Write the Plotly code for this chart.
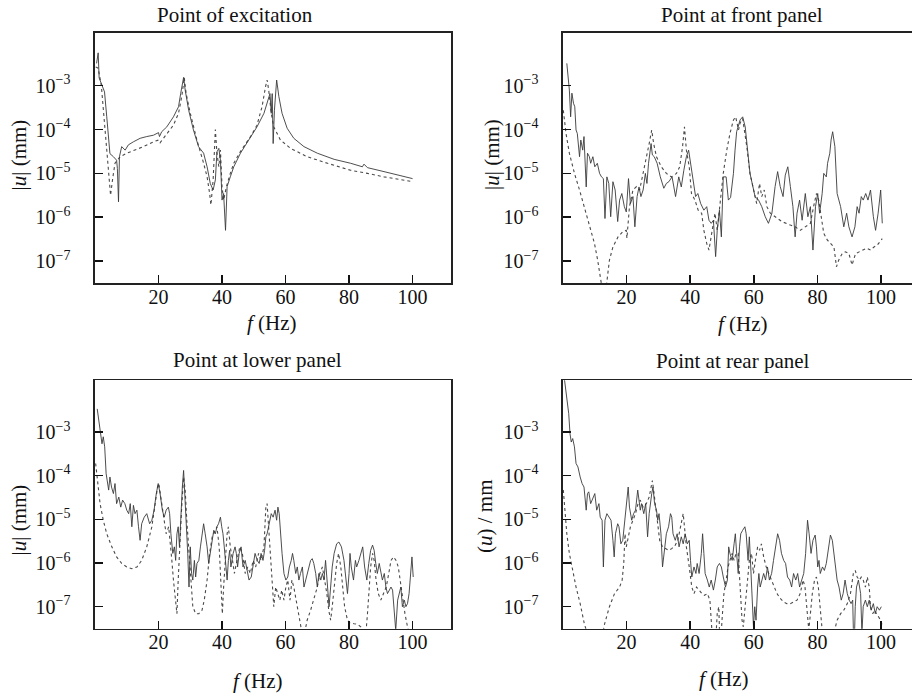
import plotly.graph_objects as go

# ---------------- data (frequency in Hz, |u| given as log10 of mm) ----------------
exc_solid_f = [0.5, 1.0, 1.3, 2.0, 3.0, 3.7, 4.7, 5.8, 6.8, 7.05,
               7.4, 7.7, 8.4, 9.5, 10.5, 12.1, 14.2, 16.3, 18.4, 20.0,
               20.3, 21.0, 22.6, 24.7, 26.3, 27.0, 27.7, 27.9, 28.4, 29.5,
               31.0, 32.6, 34.2, 35.3, 36.3, 37.2, 37.9, 38.4, 39.0, 39.5,
               40.0, 40.5, 41.1, 41.6, 42.6, 43.7, 45.8, 48.4, 51.0, 53.2,
               54.2, 55.1, 55.5, 55.8, 56.1, 56.5, 57.2, 57.9, 58.9, 60.5,
               62.6, 65.8, 70.0, 75.3, 80.5, 84.2, 84.7, 85.8, 91.0, 96.3,
               100.0]
exc_solid_lg = [-2.49, -2.25, -2.82, -2.96, -3.14, -3.71, -4.55, -4.62, -4.70, -4.89,
                -5.65, -4.62, -4.39, -4.47, -4.35, -4.28, -4.20, -4.16, -4.13, -4.07,
                -4.16, -4.05, -3.94, -3.71, -3.48, -3.17, -2.83, -2.81, -3.10, -3.56,
                -4.01, -4.39, -4.54, -4.85, -5.23, -5.38, -5.15, -4.51, -4.43, -4.70,
                -5.61, -5.46, -6.30, -5.30, -5.08, -4.85, -4.54, -4.24, -3.94, -3.63,
                -3.40, -3.18, -3.63, -3.18, -4.32, -3.56, -2.87, -3.25, -3.63, -3.97,
                -4.20, -4.39, -4.54, -4.68, -4.77, -4.85, -4.79, -4.87, -4.96, -5.05,
                -5.12]
exc_dot_f = [0.2, 1.0, 2.0, 2.6, 3.7, 4.5, 4.9, 5.6, 6.3, 7.9,
             10.0, 12.1, 15.3, 18.4, 20.0, 20.5, 22.6, 24.7, 26.3, 27.4,
             28.1, 28.7, 30.0, 32.1, 34.2, 35.3, 36.1, 36.5, 37.2, 37.9,
             38.4, 39.0, 39.5, 40.0, 40.5, 41.4, 42.6, 43.7, 45.8, 49.0,
             51.0, 52.6, 53.7, 54.2, 54.7, 55.5, 56.3, 58.4, 61.6, 66.8,
             73.2, 80.5, 85.8, 91.0, 100.0]
exc_dot_lg = [-2.57, -2.60, -3.00, -3.50, -4.47, -5.08, -5.50, -5.10, -4.77, -4.62,
              -4.54, -4.48, -4.39, -4.28, -4.24, -4.30, -4.09, -3.90, -3.63, -3.21,
              -2.81, -3.18, -3.63, -4.24, -4.77, -5.08, -5.46, -5.72, -5.15, -4.00,
              -4.54, -4.85, -4.47, -5.30, -5.61, -5.30, -5.00, -4.77, -4.50, -4.16,
              -3.90, -3.48, -3.02, -2.87, -3.10, -3.63, -3.94, -4.24, -4.43, -4.62,
              -4.77, -4.93, -5.00, -5.08, -5.19]

front_solid_f = [1.2, 2.0, 2.4, 2.8, 3.3, 3.7, 4.1, 4.5, 5.2, 5.6,
                 6.2, 6.6, 7.3, 7.7, 8.3, 8.7, 9.4, 10.0, 10.8, 11.5,
                 12.1, 12.7, 13.2, 13.8, 14.4, 15.0, 15.7, 16.4, 17.2, 17.8,
                 18.5, 19.3, 19.9, 20.6, 21.2, 22.0, 22.6, 23.3, 23.9, 24.5,
                 25.2, 25.9, 26.4, 26.9, 27.7, 28.1, 28.7, 29.6, 30.6, 31.7,
                 32.5, 33.3, 34.3, 35.4, 36.4, 37.2, 38.0, 38.8, 39.5, 40.1,
                 40.9, 41.7, 42.4, 43.3, 44.3, 45.2, 45.9, 46.6, 47.3, 48.0,
                 48.5, 49.2, 49.8, 50.4, 51.3, 52.0, 52.7, 53.6, 54.1, 54.6,
                 55.7, 56.5, 57.3, 57.8, 58.8, 60.4, 61.5, 62.5, 63.6, 64.6,
                 65.7, 66.7, 67.5, 68.3, 69.2, 69.9, 70.7, 71.5, 72.3, 73.0,
                 73.6, 74.4, 75.2, 76.2, 77.0, 77.8, 78.6, 79.4, 80.1, 80.7,
                 81.5, 82.0, 82.8, 83.2, 83.9, 84.3, 84.8, 85.5, 86.2, 87.3,
                 88.3, 89.2, 89.9, 90.9, 91.8, 92.5, 93.1, 93.8, 94.4, 95.2,
                 95.9, 96.7, 97.6, 98.3, 99.1, 99.9, 100.4]
front_solid_lg = [-2.49, -3.10, -3.71, -3.17, -3.40, -3.48, -4.01, -4.09, -4.62, -4.24,
                  -4.47, -4.16, -5.31, -4.54, -4.62, -4.77, -4.62, -4.85, -4.77, -5.00,
                  -5.08, -5.12, -6.03, -5.08, -5.23, -5.99, -5.19, -5.38, -6.10, -5.61,
                  -5.46, -5.76, -5.88, -5.12, -5.69, -5.53, -6.22, -5.53, -5.31, -5.53,
                  -5.38, -5.00, -5.23, -4.77, -4.32, -4.58, -4.62, -4.77, -5.08, -5.34,
                  -5.23, -5.19, -5.08, -5.53, -5.08, -5.31, -4.93, -4.62, -4.47, -4.77,
                  -5.23, -5.53, -5.46, -5.69, -5.84, -5.76, -6.07, -6.14, -6.07, -6.90,
                  -6.30, -5.84, -6.45, -5.08, -5.08, -5.61, -5.55, -5.00, -4.47, -4.05,
                  -3.78, -3.71, -3.94, -4.32, -5.00, -5.53, -5.61, -5.76, -5.99, -6.14,
                  -5.91, -5.30, -4.96, -5.30, -5.53, -5.04, -4.85, -5.30, -5.76, -6.45,
                  -5.91, -5.61, -6.07, -5.46, -5.99, -5.76, -6.75, -5.76, -5.46, -5.91,
                  -5.46, -5.00, -5.08, -4.77, -4.54, -4.24, -4.05, -4.39, -5.46, -5.76,
                  -6.22, -5.91, -6.22, -6.45, -6.22, -5.76, -5.91, -5.53, -5.61, -5.46,
                  -5.61, -5.38, -5.99, -6.30, -5.91, -5.38, -6.14]
front_dot_f = [0.1, 0.95, 2.0, 3.6, 5.2, 6.7, 8.3, 9.9, 10.9, 12.0,
               13.05, 13.6, 14.6, 15.7, 17.3, 18.8, 19.9, 20.1, 20.9, 22.0,
               23.1, 24.1, 25.2, 26.2, 27.1, 27.9, 28.5, 29.4, 30.9, 32.5,
               34.1, 35.7, 36.7, 37.6, 38.2, 38.8, 39.7, 40.4, 41.5, 42.5,
               43.6, 44.3, 45.2, 45.9, 46.7, 47.8, 48.5, 49.4, 50.4, 51.5,
               52.5, 53.6, 54.3, 55.2, 55.7, 56.5, 57.3, 57.8, 58.8, 60.1,
               60.9, 61.8, 62.5, 63.3, 64.1, 65.2, 66.7, 68.8, 71.5, 73.0,
               74.6, 76.2, 77.8, 78.8, 79.7, 80.4, 81.2, 82.0, 83.1, 84.1,
               85.2, 86.0, 86.7, 87.8, 88.8, 89.9, 90.9, 92.0, 93.1, 94.1,
               95.5, 96.7, 97.8, 98.8, 100.4]
front_dot_lg = [-3.56, -4.09, -4.54, -5.00, -5.38, -5.76, -6.14, -6.60, -6.98, -7.44,
                -7.97, -7.59, -6.98, -6.68, -6.45, -6.33, -6.30, -6.48, -5.76, -5.38,
                -5.30, -5.38, -5.00, -4.70, -4.32, -4.01, -4.32, -4.62, -4.85, -5.00,
                -5.08, -5.00, -4.85, -4.39, -3.94, -4.47, -4.85, -5.46, -5.61, -5.84,
                -5.91, -6.30, -6.60, -6.75, -6.37, -5.91, -6.30, -5.61, -5.00, -4.47,
                -4.09, -3.78, -3.71, -4.01, -3.85, -3.75, -4.09, -4.39, -5.00, -5.46,
                -5.69, -5.23, -5.53, -5.38, -5.76, -5.91, -5.99, -6.10, -6.18, -6.22,
                -6.30, -6.22, -6.14, -5.76, -5.46, -5.61, -5.99, -6.37, -6.52, -6.60,
                -6.68, -7.13, -6.98, -6.83, -6.79, -6.83, -7.09, -6.83, -6.79, -6.75,
                -6.71, -6.75, -6.68, -6.64, -6.49]

lower_solid_f = [0.7, 1.6, 2.2, 2.6, 3.05, 3.5, 3.9, 4.3, 4.7, 5.2,
                 5.8, 6.3, 6.8, 7.5, 8.1, 8.7, 9.4, 10.0, 10.6, 11.1,
                 11.6, 12.1, 12.6, 13.2, 13.7, 14.2, 14.7, 15.5, 16.3, 17.2,
                 17.9, 18.6, 19.3, 19.9, 20.5, 21.2, 21.8, 22.4, 23.1, 23.5,
                 23.9, 24.5, 25.0, 25.4, 25.8, 26.2, 26.6, 27.1, 27.5, 27.9,
                 28.3, 28.7, 29.2, 29.6, 30.0, 30.4, 30.8, 31.3, 31.7, 32.1,
                 32.7, 33.2, 33.8, 34.2, 34.7, 35.3, 35.8, 36.3, 36.9, 37.4,
                 37.9, 38.4, 38.9, 39.5, 39.9, 40.3, 40.7, 41.2, 41.6, 42.0,
                 42.4, 42.8, 43.5, 44.1, 44.5, 44.9, 45.4, 46.0, 46.6, 47.3,
                 47.9, 48.5, 49.2, 49.8, 50.4, 51.1, 51.7, 52.3, 52.9, 53.4,
                 53.8, 54.2, 54.8, 55.5, 56.1, 56.7, 57.2, 57.6, 58.0, 58.4,
                 58.9, 59.5, 60.1, 60.7, 61.2, 61.8, 62.2, 62.6, 63.2, 63.7,
                 64.2, 64.7, 65.3, 65.8, 66.3, 66.8, 67.4, 67.9, 68.4, 68.9,
                 69.5, 70.0, 70.5, 71.1, 71.6, 72.1, 72.6, 73.2, 73.7, 74.2,
                 74.7, 75.3, 76.1, 76.8, 77.6, 78.4, 79.1, 79.5, 80.0, 80.3,
                 80.7, 81.4, 82.0, 82.4, 83.1, 83.7, 84.3, 84.9, 85.6, 86.2,
                 86.8, 87.4, 87.9, 88.4, 88.9, 89.5, 90.0, 90.5, 91.1, 91.6,
                 92.1, 92.6, 93.2, 93.7, 94.2, 94.7, 95.3, 95.8, 96.3, 96.8,
                 97.4, 97.9, 98.4, 98.9, 99.5, 99.8, 100.2]
lower_solid_lg = [-2.47, -2.89, -3.27, -3.11, -3.34, -3.95, -4.10, -4.33, -4.03, -4.26,
                  -4.41, -4.18, -4.64, -4.49, -4.72, -4.56, -4.64, -4.79, -4.87, -4.64,
                  -5.17, -4.68, -4.87, -4.79, -5.17, -5.48, -5.10, -4.95, -4.87, -5.10,
                  -5.02, -4.79, -4.41, -4.18, -4.41, -4.79, -4.95, -4.79, -4.72, -4.87,
                  -5.33, -5.78, -5.63, -5.94, -5.33, -5.17, -5.63, -4.79, -4.26, -3.88,
                  -4.41, -5.17, -5.78, -6.55, -5.63, -6.24, -6.39, -5.94, -6.32, -6.01,
                  -5.94, -5.63, -5.33, -5.10, -5.33, -5.63, -6.01, -5.78, -5.40, -5.25,
                  -5.33, -5.17, -5.10, -4.95, -5.17, -5.33, -5.63, -6.01, -6.39, -5.94,
                  -5.71, -6.09, -5.78, -5.63, -5.78, -6.09, -5.78, -5.63, -6.09, -5.94,
                  -6.17, -6.39, -6.32, -6.09, -5.78, -5.94, -6.01, -5.78, -5.94, -5.71,
                  -5.40, -5.33, -5.10, -4.87, -4.95, -4.79, -5.02, -4.72, -4.87, -5.33,
                  -5.78, -6.24, -6.39, -6.32, -6.09, -5.94, -5.78, -5.94, -6.24, -6.09,
                  -6.39, -6.24, -6.09, -6.55, -6.39, -6.24, -6.09, -5.94, -5.90, -6.01,
                  -6.24, -6.55, -6.24, -6.39, -6.24, -6.39, -5.94, -6.55, -7.00, -6.55,
                  -6.09, -5.78, -5.56, -5.52, -5.63, -5.94, -6.39, -6.70, -6.24, -5.78,
                  -6.09, -6.39, -5.94, -6.09, -5.94, -5.78, -5.63, -6.09, -6.39, -6.01,
                  -5.71, -5.59, -5.71, -6.01, -6.24, -6.01, -6.24, -6.39, -6.24, -6.55,
                  -6.70, -6.62, -6.55, -6.62, -7.16, -7.54, -6.85, -6.70, -6.55, -7.00,
                  -6.85, -7.00, -6.93, -6.70, -6.24, -5.86, -6.32]
lower_dot_f = [0.2, 0.7, 1.6, 2.6, 3.7, 5.3, 6.8, 8.4, 10.0, 11.6,
               13.2, 14.7, 16.3, 17.9, 18.9, 19.7, 20.1, 20.7, 21.6, 22.4,
               23.2, 23.7, 24.2, 24.7, 25.4, 25.8, 26.2, 26.6, 27.3, 27.9,
               28.4, 28.9, 29.6, 30.2, 30.8, 31.7, 32.7, 33.7, 34.4, 35.3,
               36.1, 36.9, 37.8, 38.4, 39.1, 39.7, 40.1, 40.5, 41.2, 41.6,
               42.0, 42.6, 43.3, 43.9, 44.7, 45.6, 46.4, 47.3, 48.1, 48.9,
               49.8, 50.6, 51.5, 52.3, 53.2, 53.8, 54.2, 54.7, 55.3, 55.8,
               56.3, 56.9, 57.6, 58.2, 58.8, 59.5, 60.1, 60.7, 61.4, 62.0,
               62.6, 63.3, 64.1, 64.9, 65.6, 66.0, 66.8, 67.9, 68.9, 70.0,
               70.8, 71.6, 72.3, 73.0, 73.6, 74.2, 74.7, 75.5, 76.1, 76.7,
               77.4, 78.0, 78.6, 79.5, 80.3, 81.6, 82.6, 83.7, 84.5, 85.3,
               85.8, 86.3, 86.8, 87.4, 87.9, 88.5, 89.2, 90.0, 90.8, 91.7,
               92.5, 93.2, 94.0, 94.8, 95.5, 96.1, 96.7, 97.6, 98.4, 99.3,
               100.1]
lower_dot_lg = [-3.72, -4.10, -4.64, -5.02, -5.33, -5.63, -5.86, -6.01, -6.09, -6.13,
                -6.09, -5.94, -5.63, -5.17, -4.64, -4.26, -4.18, -4.49, -5.02, -5.33,
                -5.17, -5.48, -5.94, -6.39, -7.00, -7.16, -6.39, -5.63, -4.72, -4.03,
                -4.33, -5.02, -5.78, -6.55, -7.00, -7.16, -7.16, -7.08, -6.85, -6.39,
                -5.78, -5.40, -5.25, -5.17, -5.63, -6.78, -7.16, -6.55, -5.78, -5.33,
                -5.17, -5.63, -5.94, -6.24, -5.94, -5.63, -5.78, -6.24, -6.09, -6.24,
                -5.94, -6.09, -5.78, -5.94, -5.63, -4.72, -4.64, -5.17, -5.94, -6.55,
                -7.00, -6.55, -6.70, -6.85, -6.62, -6.85, -6.55, -6.39, -6.85, -6.39,
                -6.55, -6.85, -7.16, -7.46, -7.77, -7.61, -7.31, -7.08, -6.85, -6.55,
                -6.24, -6.09, -6.39, -6.70, -7.08, -7.31, -7.00, -6.39, -6.01, -5.78,
                -6.09, -6.55, -7.00, -7.31, -7.37, -7.39, -7.40, -7.46, -7.54, -7.61,
                -7.16, -6.55, -6.09, -5.78, -5.94, -6.39, -6.70, -6.85, -6.70, -6.55,
                -6.24, -5.94, -5.86, -5.94, -6.09, -6.39, -6.78, -7.16, -7.46, -7.69,
                -7.92]

rear_solid_f = [0.3, 1.2, 1.8, 2.2, 2.6, 3.05, 3.6, 4.1, 4.7, 5.4,
                6.0, 6.6, 7.3, 7.7, 8.1, 8.7, 9.4, 10.0, 10.6, 11.3,
                11.7, 12.3, 12.7, 13.2, 13.8, 14.4, 15.1, 15.7, 16.1, 16.5,
                17.2, 17.6, 18.2, 18.8, 19.5, 20.1, 20.5, 20.9, 21.6, 22.2,
                22.8, 23.5, 23.9, 24.3, 24.7, 25.4, 26.0, 26.6, 27.1, 27.5,
                27.9, 28.3, 28.8, 29.4, 29.8, 30.2, 30.8, 31.3, 31.9, 32.5,
                33.2, 33.8, 34.2, 34.6, 35.3, 35.9, 36.5, 37.2, 37.8, 38.4,
                39.1, 39.7, 40.1, 40.5, 41.2, 41.8, 42.2, 42.8, 43.5, 43.9,
                44.3, 44.7, 45.4, 46.0, 46.6, 47.3, 47.9, 48.5, 49.2, 49.8,
                50.4, 51.1, 51.7, 52.1, 52.5, 53.2, 53.8, 54.2, 54.6, 55.1,
                55.5, 55.9, 56.5, 57.2, 57.6, 58.2, 58.6, 59.1, 59.5, 59.9,
                60.3, 60.7, 61.2, 61.6, 62.0, 62.5, 63.1, 63.7, 64.3, 64.9,
                65.6, 66.2, 66.8, 67.5, 68.1, 68.7, 69.4, 70.0, 70.6, 71.3,
                71.9, 72.5, 73.2, 73.8, 74.4, 75.1, 75.7, 76.3, 76.9, 77.4,
                78.0, 78.6, 79.3, 79.7, 80.1, 80.5, 80.9, 81.6, 82.2, 82.8,
                83.5, 84.1, 84.7, 85.2, 85.6, 86.2, 86.8, 87.5, 88.1, 88.7,
                89.4, 90.0, 90.6, 91.1, 91.5, 91.9, 92.3, 92.9, 93.6, 94.0,
                94.4, 95.1, 95.7, 96.3, 96.9, 97.6, 98.2, 98.8, 99.5, 100.1]
rear_solid_lg = [-1.70, -2.20, -2.58, -3.04, -3.23, -3.15, -3.34, -3.72, -3.80, -4.03,
                 -4.18, -4.26, -4.79, -4.41, -4.37, -4.64, -4.49, -4.41, -4.79, -4.64,
                 -4.95, -5.02, -6.09, -5.02, -4.87, -4.95, -5.02, -5.48, -5.86, -5.33,
                 -5.10, -5.17, -5.56, -5.48, -4.95, -4.56, -4.26, -4.72, -5.02, -4.87,
                 -4.79, -4.33, -4.56, -4.79, -4.64, -4.87, -4.64, -5.40, -4.87, -4.56,
                 -4.41, -4.26, -4.64, -4.79, -5.02, -4.87, -5.33, -6.09, -5.63, -5.33,
                 -5.17, -4.87, -4.95, -5.33, -5.48, -5.33, -5.63, -5.40, -5.56, -5.33,
                 -5.56, -5.48, -5.94, -6.32, -6.09, -6.24, -6.01, -6.24, -5.78, -5.33,
                 -5.78, -6.24, -6.39, -6.55, -6.39, -6.62, -6.39, -6.09, -6.01, -6.09,
                 -6.32, -6.55, -6.39, -5.63, -5.78, -5.94, -5.56, -5.33, -5.78, -6.24,
                 -5.63, -5.33, -5.25, -5.17, -5.33, -5.94, -5.40, -6.24, -7.16, -7.46,
                 -7.00, -7.31, -6.55, -6.24, -6.55, -6.39, -6.24, -6.39, -6.09, -6.39,
                 -6.24, -5.94, -5.63, -5.33, -5.48, -5.78, -5.94, -6.01, -6.32, -6.39,
                 -6.55, -6.24, -6.39, -6.24, -6.55, -6.39, -6.24, -5.78, -5.02, -5.33,
                 -5.78, -5.48, -5.36, -5.63, -6.09, -5.94, -6.24, -6.09, -6.17, -6.01,
                 -5.63, -5.36, -5.48, -5.78, -6.09, -6.39, -6.55, -6.85, -6.70, -6.39,
                 -6.70, -6.85, -6.93, -6.85, -8.15, -7.00, -6.55, -6.39, -6.70, -7.62,
                 -7.00, -6.85, -7.00, -6.85, -7.08, -6.93, -7.16, -7.00, -7.08, -7.00]
rear_dot_f = [0.1, 0.5, 1.2, 2.0, 3.05, 4.1, 5.4, 6.7, 8.3, 9.6,
              10.9, 12.0, 13.1, 14.6, 16.2, 17.8, 18.6, 19.1, 19.5, 19.9,
              20.5, 21.2, 22.0, 22.8, 23.6, 24.3, 25.2, 26.2, 27.1, 27.7,
              28.1, 28.5, 29.2, 29.8, 30.4, 31.3, 32.1, 33.2, 34.2, 35.3,
              36.1, 36.7, 37.4, 37.8, 38.2, 38.8, 39.7, 40.5, 41.2, 42.0,
              42.8, 43.7, 44.5, 45.4, 46.2, 46.7, 47.3, 47.9, 48.5, 49.0,
              49.4, 50.0, 50.6, 51.3, 51.9, 52.5, 53.2, 53.8, 54.4, 55.1,
              55.5, 55.9, 56.3, 56.7, 57.4, 58.0, 58.6, 59.3, 59.9, 60.5,
              61.2, 61.8, 62.4, 63.1, 63.9, 64.7, 65.6, 66.4, 67.3, 68.3,
              69.4, 70.4, 71.5, 72.5, 73.6, 74.6, 75.5, 76.1, 76.7, 77.3,
              77.8, 78.4, 79.1, 79.7, 80.3, 80.9, 81.6, 82.4, 83.1, 84.1,
              85.2, 86.2, 87.3, 88.3, 89.4, 90.4, 91.3, 91.9, 92.5, 93.2,
              93.8, 94.4, 95.1, 95.7, 96.3, 96.7, 97.4, 98.0, 98.6, 99.3,
              99.9, 100.5]
rear_dot_lg = [-4.33, -4.72, -5.33, -5.78, -6.17, -6.55, -6.93, -7.39, -7.77, -8.07,
               -8.22, -7.77, -7.39, -7.00, -6.70, -6.55, -6.39, -6.01, -5.33, -5.63,
               -5.40, -5.17, -5.02, -4.87, -4.64, -4.56, -4.72, -4.64, -4.49, -4.26,
               -4.11, -4.33, -4.79, -5.17, -5.48, -5.63, -5.67, -5.71, -5.67, -5.59,
               -5.48, -5.25, -5.02, -4.87, -5.17, -5.63, -6.09, -6.55, -6.70, -6.55,
               -6.62, -6.70, -6.74, -6.70, -6.85, -7.31, -8.07, -7.92, -7.16, -7.00,
               -8.07, -7.31, -6.70, -6.39, -6.09, -5.94, -5.78, -5.94, -5.78, -5.78,
               -6.39, -6.85, -7.31, -7.46, -6.85, -6.39, -5.94, -5.78, -6.24, -5.94,
               -5.63, -5.71, -5.56, -5.86, -6.09, -6.24, -6.39, -6.55, -6.70, -6.81,
               -6.89, -6.93, -6.93, -6.89, -6.85, -6.70, -6.39, -6.55, -7.16, -7.54,
               -7.16, -6.70, -6.39, -6.32, -6.55, -7.16, -7.62, -7.92, -8.15, -7.92,
               -7.62, -7.31, -7.16, -7.08, -6.93, -6.70, -6.24, -6.17, -6.32, -6.39,
               -6.32, -6.39, -6.55, -6.32, -6.55, -7.00, -7.16, -7.08, -7.16, -7.23,
               -7.31, -7.46]

panel_titles = ["Point of excitation", "Point at front panel",
                "Point at lower panel", "Point at rear panel"]
y_titles = ["|<i>u</i>| (mm)", "|<i>u</i>| (mm)", "|<i>u</i>| (mm)", "(<i>u</i>) / mm"]
x_title = "<i>f</i> (Hz)"
x_tickvals = [20, 40, 60, 80, 100]
y_tickvals = [1e-7, 1e-6, 1e-5, 1e-4, 1e-3]
y_ticktext = ["10<sup>\u22127</sup>", "10<sup>\u22126</sup>", "10<sup>\u22125</sup>",
              "10<sup>\u22124</sup>", "10<sup>\u22123</sup>"]

# ---------------- figure ----------------
W, H = 912, 694
FONT = "Liberation Serif"
fig = go.Figure()

series = [
    (exc_solid_f, exc_solid_lg, exc_dot_f, exc_dot_lg),
    (front_solid_f, front_solid_lg, front_dot_f, front_dot_lg),
    (lower_solid_f, lower_solid_lg, lower_dot_f, lower_dot_lg),
    (rear_solid_f, rear_solid_lg, rear_dot_f, rear_dot_lg),
]
for i, (sf, sl, df, dl) in enumerate(series):
    suf = "" if i == 0 else str(i + 1)
    fig.add_trace(go.Scatter(x=df, y=[10 ** v for v in dl], mode="lines",
                             line=dict(color="#4a4a4a", width=1.1, dash="dot"),
                             xaxis="x" + suf, yaxis="y" + suf, hoverinfo="skip"))
    fig.add_trace(go.Scatter(x=sf, y=[10 ** v for v in sl], mode="lines",
                             line=dict(color="#3a3a3a", width=0.9),
                             xaxis="x" + suf, yaxis="y" + suf, hoverinfo="skip"))

# pixel geometry of the four plot boxes: (left, right, top, bottom, xmax, ylo, yhi, right_line)
boxes = [
    (95, 451, 33, 283, 112.1, -7.502, -1.797, True),
    (563, 912, 33, 283, 109.75, -7.502, -1.797, False),
    (95, 451, 380.3, 628.7, 112.1, -7.504, -1.816, True),
    (563, 912, 380.3, 628.7, 109.75, -7.504, -1.816, False),
]
layout = {}
for i, (l, r, t, b, xmax, ylo, yhi, rline) in enumerate(boxes):
    suf = "" if i == 0 else str(i + 1)
    layout["xaxis" + suf] = dict(
        domain=[l / W, r / W], anchor="y" + suf, range=[0, xmax],
        tickvals=x_tickvals, ticks="inside", ticklen=8, tickwidth=1.5, tickcolor="#111",
        showline=True, linecolor="#222", linewidth=1.6, mirror=True,
        showgrid=False, zeroline=False, ticklabelstandoff=-5,
        tickfont=dict(family=FONT, size=20, color="#111"))
    layout["yaxis" + suf] = dict(
        domain=[1 - b / H, 1 - t / H], anchor="x" + suf, type="log", range=[ylo, yhi],
        tickvals=y_tickvals, ticktext=y_ticktext, ticks="inside", ticklen=8,
        tickwidth=1.5, tickcolor="#111",
        showline=True, linecolor="#222", linewidth=1.6, mirror=rline,
        showgrid=False, zeroline=False, ticklabelstandoff=19,
        tickfont=dict(family=FONT, size=20, color="#111"))

ann = []
title_pos = [(235, 15), (741.7, 15), (257.5, 360), (733, 361)]
xlab_pos = [(271.7, 323), (742.7, 324), (258.3, 681), (724, 679)]
ylab_pos = [(18.5, 155), (492, 155), (18.5, 520), (484.5, 516.5)]
for i in range(4):
    tx, ty = title_pos[i]
    ann.append(dict(text=panel_titles[i], x=tx / W, y=1 - ty / H, xref="paper", yref="paper",
                    xanchor="center", yanchor="middle", showarrow=False,
                    font=dict(family=FONT, size=21, color="#111")))
    lx, ly = xlab_pos[i]
    ann.append(dict(text=x_title, x=lx / W, y=1 - ly / H, xref="paper", yref="paper",
                    xanchor="center", yanchor="middle", showarrow=False,
                    font=dict(family=FONT, size=21, color="#111")))
    vx, vy = ylab_pos[i]
    ann.append(dict(text=y_titles[i], x=vx / W, y=1 - vy / H, xref="paper", yref="paper",
                    xanchor="center", yanchor="middle", showarrow=False, textangle=-90,
                    font=dict(family=FONT, size=21, color="#111")))

fig.update_layout(width=W, height=H, margin=dict(l=0, r=0, t=0, b=0),
                  paper_bgcolor="white", plot_bgcolor="white", showlegend=False,
                  annotations=ann, hovermode=False, **layout)

fig.write_html("out.html", config={"displayModeBar": False, "staticPlot": True},
               post_script="document.body.style.margin='0';"
                           "document.body.style.overflow='hidden';")
